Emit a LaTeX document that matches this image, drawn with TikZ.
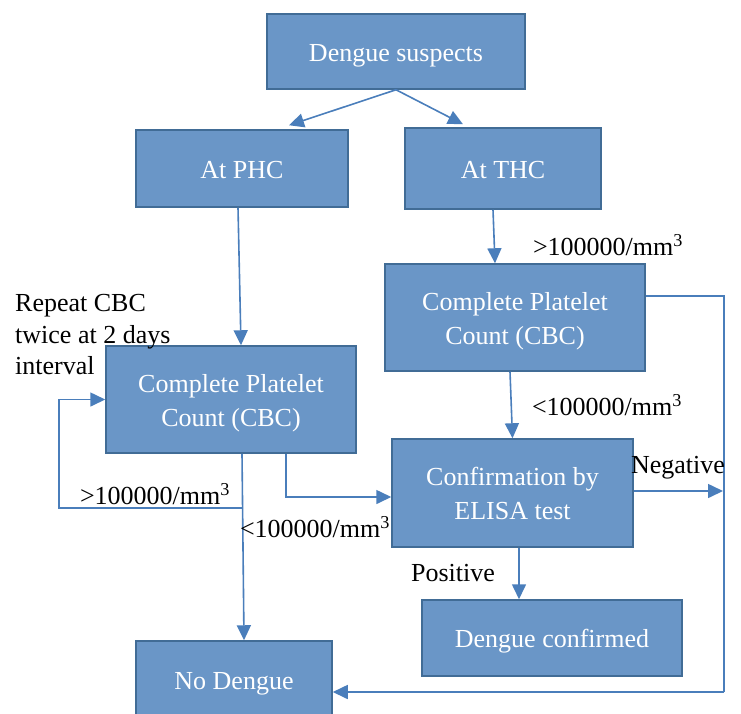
\documentclass[tikz,border=0pt]{standalone}
\usepackage{fontspec}
\setmainfont{Liberation Serif}
\usetikzlibrary{arrows.meta}
\definecolor{boxfill}{RGB}{106,150,199}
\definecolor{boxline}{RGB}{65,108,150}
\definecolor{conn}{RGB}{74,126,187}
\newcommand\boxstrut{\rule[-7pt]{0pt}{33pt}}
\begin{document}
\begin{tikzpicture}[x=1pt,y=-1pt,
  box/.style={draw=boxline, line width=1.5pt, fill=boxfill, text=white, align=center, inner sep=0pt,
    font=\fontsize{26}{32}\selectfont},
  conn/.style={draw=conn, line width=1.6pt, -{Triangle[length=15pt,width=14pt]}},
  plain/.style={draw=conn, line width=1.6pt},
  lab/.style={inner sep=0pt, font=\fontsize{26}{31.5}\selectfont}]
\useasboundingbox (0,0) rectangle (741,713);
\node[box, minimum width=258pt, minimum height=75pt] (ds) at (396,51.5) {\boxstrut Dengue suspects};
\node[box, minimum width=212pt, minimum height=77pt] (phc) at (242,168.5) {\boxstrut At PHC};
\node[box, minimum width=196pt, minimum height=81pt] (thc) at (503,168.5) {\boxstrut At THC};
\node[box, minimum width=260pt, minimum height=107pt] (cbcR) at (515,317.5) {\boxstrut Complete Platelet\\Count (CBC)\boxstrut};
\node[box, minimum width=250pt, minimum height=107pt] (cbcL) at (231,399.5) {\boxstrut Complete Platelet\\Count (CBC)\boxstrut};
\node[box, minimum width=241pt, minimum height=108pt] (elisa) at (512.5,493) {\boxstrut Confirmation by\\ELISA test\boxstrut};
\node[box, minimum width=260pt, minimum height=76pt] (conf) at (552,638) {\boxstrut Dengue confirmed};
\node[box, minimum width=196pt, minimum height=77pt] (nod) at (234,679.5) {\boxstrut No Dengue};

\coordinate (rt) at (724,296);
\coordinate (rb) at (724,692);
\coordinate (neg) at (723,491);
\coordinate (lp1) at (243,508);
\coordinate (lp2) at (59,508);

\draw[conn] (ds.south) -- ([xshift=47pt,yshift=4pt]phc.north);
\draw[conn] (ds.south) -- ([xshift=-40pt,yshift=3pt]thc.north);
\draw[conn] ([xshift=-4pt]phc.south) -- ([xshift=10pt]cbcL.north);
\draw[conn] ([xshift=-10pt]thc.south) -- ([xshift=-20pt]cbcR.north);
\draw[conn] ([xshift=-5pt]cbcR.south) -- (elisa.north);
\draw[plain] ([yshift=21.5pt]cbcR.east) -- (rt) -- (rb);
\draw[conn] (rb) -- ([yshift=-12.5pt]nod.east);
\draw[conn] ([yshift=2pt]elisa.east) -- (neg);
\draw[conn] ([xshift=6.5pt]elisa.south) -- ([xshift=-33pt]conf.north);
\draw[conn] ([xshift=11pt]cbcL.south) -- ([xshift=10pt]nod.north);
\draw[conn] (lp1) -- (lp2) |- (cbcL.west);
\draw[conn] ([xshift=55pt]cbcL.south) |- ([yshift=-4pt]elisa.west);

\node[lab] (l1) at (608,245) {>100000/mm\textsuperscript{3}};
\node[lab] (l2) at (607,405) {<100000/mm\textsuperscript{3}};
\node[lab] (l3) at (155,494) {>100000/mm\textsuperscript{3}};
\node[lab] (l4) at (315,527) {<100000/mm\textsuperscript{3}};
\node[lab] (l5) at (678,468) {Negative};
\node[lab] (l6) at (453,573) {Positive};
\node[lab, align=left, anchor=west] (l7) at (15,335) {Repeat CBC\\twice at 2 days\\interval};
\end{tikzpicture}
\end{document}
